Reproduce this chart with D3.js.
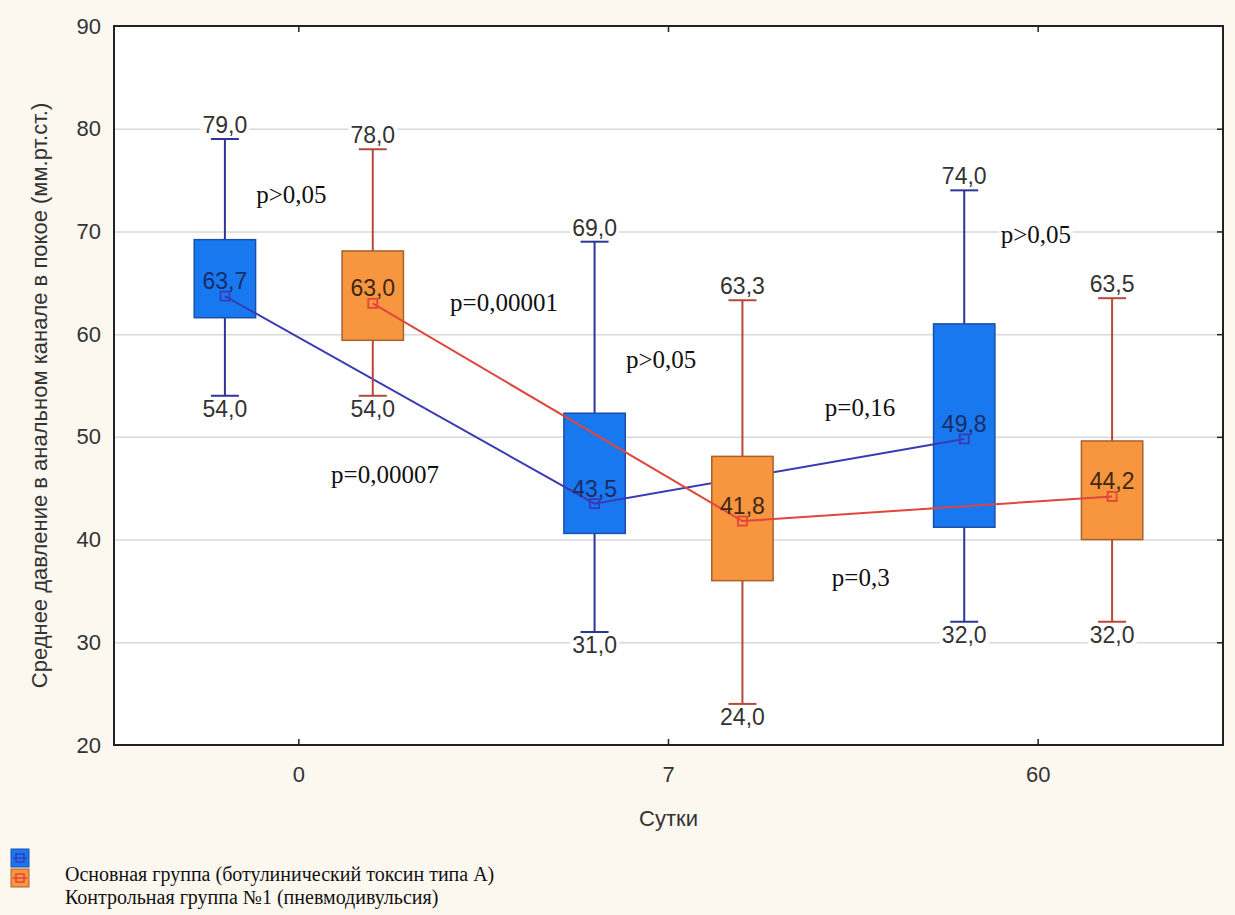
<!DOCTYPE html>
<html>
<head>
<meta charset="utf-8">
<script src="https://cdn.jsdelivr.net/npm/d3@7"></script>
<style>
    body { margin: 0; background: #fcf8f0; }
    svg { display: block; }
</style>
</head>
<body>
<svg id="SVG_CONTAINER" width="1235" height="915"></svg>
<script>
// ---- data ----
const days = ["0", "7", "60"];
const groupNames = [
    "Основная группа (ботулинический токсин типа А)",
    "Контрольная группа №1 (пневмодивульсия)"
];

// основная группа
const mainMin  = [54.0, 31.0, 32.0];
const mainQ1   = [61.6, 40.6, 41.2];
const mainMean = [63.7, 43.5, 49.8];
const mainQ3   = [69.2, 52.3, 61.0];
const mainMax  = [79.0, 69.0, 74.0];

// контрольная группа
const ctrlMin  = [54.0, 24.0, 32.0];
const ctrlQ1   = [59.4, 36.0, 40.0];
const ctrlMean = [63.0, 41.8, 44.2];
const ctrlQ3   = [68.1, 48.1, 49.6];
const ctrlMax  = [78.0, 63.3, 63.5];

const yTicks = [20, 30, 40, 50, 60, 70, 80, 90];

// p-value annotations, anchored in chart units (day index, mm Hg)
const pTexts  = ["p>0,05", "p=0,00001", "p>0,05", "p=0,00007", "p=0,16", "p=0,3", "p>0,05"];
const pDayPos = [-0.02, 0.555, 0.98, 0.233, 1.518, 1.52, 1.994];
const pValPos = [72.8, 62.25, 56.7, 45.5, 52.0, 35.5, 68.9];

// ---- layout ----
const MARGIN = { LEFT: 114, RIGHT: 12, TOP: 26, BOTTOM: 170 };
const width = 1235, height = 915;
const L = MARGIN.LEFT, R = width - MARGIN.RIGHT, T = MARGIN.TOP, B = height - MARGIN.BOTTOM;

const styles = [
    { fill: "#1878f0", stroke: "#1d4fa8", whisker: "#2f3592", line: "#3a3ab6", meanText: "#1b2c66" },
    { fill: "#f8953f", stroke: "#a8622c", whisker: "#b5473b", line: "#e0463c", meanText: "#3c2816" }
];

const svg = d3.select("#SVG_CONTAINER");
const numFmt = v => d3.format(".1f")(v).replace(".", ",");

// scales
const xBand = d3.scaleBand().domain(days).range([L, R]);
const xPos = d3.scaleLinear().domain([-0.5, days.length - 0.5]).range([L, R]);
const yScale = d3.scaleLinear().domain([20, 90]).range([B, T]);

const groupOffset = 0.2;   // in day units
const boxHalf = 0.083;     // in day units

// plot background
svg.append("rect")
    .attr("x", L).attr("y", T)
    .attr("width", R - L).attr("height", B - T)
    .attr("fill", "#ffffff");

// grid
svg.append("g")
    .attr("transform", "translate(" + L + ",0)")
    .call(d3.axisLeft(yScale).tickValues(yTicks.slice(1, -1)).tickSize(-(R - L)).tickFormat(""))
    .call(g => g.select(".domain").remove())
    .selectAll("line").attr("stroke", "#d9d9d9").attr("stroke-width", 1.5);

const bgLayer = svg.append("g");
const markLayer = svg.append("g");
const textLayer = svg.append("g");

// ---- series ----
const series = [
    { min: mainMin, q1: mainQ1, mean: mainMean, q3: mainQ3, max: mainMax },
    { min: ctrlMin, q1: ctrlQ1, mean: ctrlMean, q3: ctrlQ3, max: ctrlMax }
];

series.forEach(function (s, gi) {
    let st = styles[gi];
    let off = gi === 0 ? -groupOffset : groupOffset;
    let rows = days.map((d, i) => ({
        i: i, min: s.min[i], q1: s.q1[i], mean: s.mean[i], q3: s.q3[i], max: s.max[i]
    }));
    let cx = d => xPos(d.i + off);
    let capHalf = 14;

    let g = markLayer.append("g");

    // whiskers
    g.selectAll(".whisk").data(rows).enter().append("line")
        .attr("x1", cx).attr("x2", cx)
        .attr("y1", d => yScale(d.min)).attr("y2", d => yScale(d.max))
        .attr("stroke", st.whisker).attr("stroke-width", 2);
    g.selectAll(".capTop").data(rows).enter().append("line")
        .attr("x1", d => cx(d) - capHalf).attr("x2", d => cx(d) + capHalf)
        .attr("y1", d => yScale(d.max)).attr("y2", d => yScale(d.max))
        .attr("stroke", st.whisker).attr("stroke-width", 2);
    g.selectAll(".capBot").data(rows).enter().append("line")
        .attr("x1", d => cx(d) - capHalf).attr("x2", d => cx(d) + capHalf)
        .attr("y1", d => yScale(d.min)).attr("y2", d => yScale(d.min))
        .attr("stroke", st.whisker).attr("stroke-width", 2);

    // boxes
    g.selectAll(".box").data(rows).enter().append("rect")
        .attr("x", d => xPos(d.i + off - boxHalf))
        .attr("width", xPos(boxHalf * 2) - xPos(0))
        .attr("y", d => yScale(d.q3))
        .attr("height", d => yScale(d.q1) - yScale(d.q3))
        .attr("fill", st.fill).attr("stroke", st.stroke).attr("stroke-width", 1.5);

    // mean line
    g.append("path")
        .datum(rows)
        .attr("d", d3.line().x(cx).y(d => yScale(d.mean)))
        .attr("fill", "none").attr("stroke", st.line).attr("stroke-width", 2);

    // mean markers
    g.selectAll(".mk").data(rows).enter().append("rect")
        .attr("x", d => cx(d) - 4.5).attr("y", d => yScale(d.mean) - 4.5)
        .attr("width", 9).attr("height", 9)
        .attr("fill", "none").attr("stroke", st.line).attr("stroke-width", 1.8);

    // value labels
    let lbl = textLayer.append("g")
        .attr("font-family", "Liberation Sans, Arial, sans-serif")
        .attr("font-size", 23).attr("text-anchor", "middle");

    lbl.selectAll(".tmax").data(rows).enter().append("text")
        .attr("class", "wlabel")
        .attr("x", cx).attr("y", d => yScale(d.max) - 6)
        .attr("fill", "#333").text(d => numFmt(d.max));
    lbl.selectAll(".tmin").data(rows).enter().append("text")
        .attr("class", "wlabel")
        .attr("x", cx).attr("y", d => yScale(d.min) + 21)
        .attr("fill", "#333").text(d => numFmt(d.min));
    lbl.selectAll(".tmean").data(rows).enter().append("text")
        .attr("x", cx).attr("y", d => yScale(d.mean) - 7)
        .attr("fill", st.meanText).text(d => numFmt(d.mean));
});

// p-values
textLayer.append("g")
    .attr("font-family", "Liberation Serif, Times New Roman, serif")
    .attr("font-size", 25).attr("text-anchor", "middle")
    .selectAll("text").data(pTexts).enter().append("text")
    .attr("class", "plabel")
    .attr("x", (d, i) => xPos(pDayPos[i]))
    .attr("y", (d, i) => yScale(pValPos[i]))
    .attr("fill", "#111")
    .text(d => d);

// white backgrounds behind whisker and p labels (they break the grid)
textLayer.selectAll(".wlabel, .plabel").each(function () {
    let bb = this.getBBox();
    bgLayer.append("rect")
        .attr("x", bb.x - 2).attr("y", bb.y)
        .attr("width", bb.width + 4).attr("height", bb.height)
        .attr("fill", "#ffffff");
});

// ---- axes ----
let yAxis = svg.append("g")
    .attr("transform", "translate(" + L + ",0)")
    .call(d3.axisLeft(yScale).tickValues(yTicks).tickSize(0).tickPadding(13));
yAxis.select(".domain").remove();
yAxis.selectAll("text")
    .attr("font-family", "Liberation Sans, Arial, sans-serif")
    .attr("font-size", 22).attr("fill", "#333");

let yRight = svg.append("g")
    .attr("transform", "translate(" + R + ",0)")
    .call(d3.axisRight(yScale).tickValues(yTicks.slice(1, -1)).tickSize(-6).tickFormat(""));
yRight.select(".domain").remove();
yRight.selectAll("line").attr("stroke", "#222").attr("stroke-width", 1.5);

let xAxis = svg.append("g")
    .attr("transform", "translate(0," + B + ")")
    .call(d3.axisBottom(xBand).tickSize(-6).tickPadding(21));
xAxis.select(".domain").remove();
xAxis.selectAll("line").attr("stroke", "#222").attr("stroke-width", 1.5);
xAxis.selectAll("text")
    .attr("font-family", "Liberation Sans, Arial, sans-serif")
    .attr("font-size", 22).attr("fill", "#333");

let xTop = svg.append("g")
    .attr("transform", "translate(0," + T + ")")
    .call(d3.axisTop(xBand).tickSize(-6).tickFormat(""));
xTop.select(".domain").remove();
xTop.selectAll("line").attr("stroke", "#222").attr("stroke-width", 1.5);

// frame
svg.append("rect")
    .attr("x", L).attr("y", T)
    .attr("width", R - L).attr("height", B - T)
    .attr("fill", "none").attr("stroke", "#222").attr("stroke-width", 2);

// axis titles
svg.append("text")
    .attr("x", (L + R) / 2).attr("y", B + 81)
    .attr("text-anchor", "middle")
    .attr("font-family", "Liberation Sans, Arial, sans-serif")
    .attr("font-size", 22).attr("fill", "#333")
    .text("Сутки");

svg.append("text")
    .attr("transform", "translate(47," + ((T + B) / 2 + 10) + ") rotate(-90)")
    .attr("text-anchor", "middle")
    .attr("font-family", "Liberation Sans, Arial, sans-serif")
    .attr("font-size", 22).attr("fill", "#333")
    .text("Среднее давление в анальном канале в покое (мм.рт.ст.)");

// ---- legend ----
let legend = svg.append("g");
groupNames.forEach(function (name, i) {
    let st = styles[i];
    let ly = 849 + i * 20;
    legend.append("rect")
        .attr("x", 11).attr("y", ly).attr("width", 18).attr("height", 18)
        .attr("fill", st.fill).attr("stroke", st.stroke).attr("stroke-width", 1);
    legend.append("line")
        .attr("x1", 13).attr("x2", 27).attr("y1", ly + 9).attr("y2", ly + 9)
        .attr("stroke", st.line).attr("stroke-width", 1.5);
    legend.append("rect")
        .attr("x", 16).attr("y", ly + 5).attr("width", 8).attr("height", 8)
        .attr("fill", "none").attr("stroke", st.line).attr("stroke-width", 1.5);
    legend.append("text")
        .attr("x", 65).attr("y", 881 + i * 23)
        .attr("font-family", "Liberation Serif, Times New Roman, serif")
        .attr("font-size", 20).attr("fill", "#111")
        .text(name);
});
</script>
</body>
</html>
